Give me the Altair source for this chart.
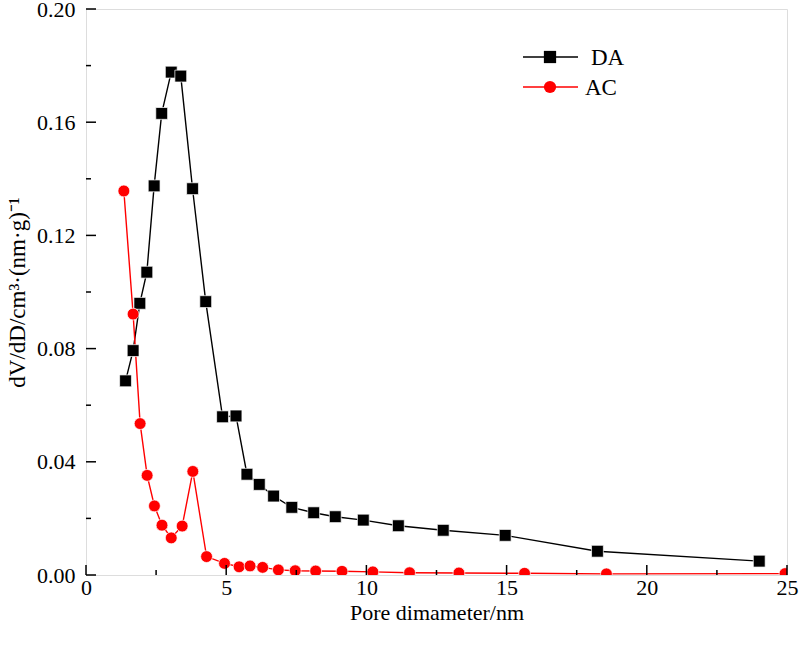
import altair as alt
import pandas as pd

# ---- data ----
da_x = [1.41, 1.68, 1.92, 2.17, 2.43, 2.70, 3.04, 3.38, 3.80, 4.27, 4.87, 5.35, 5.74,
        6.18, 6.69, 7.34, 8.12, 8.89, 9.89, 11.14, 12.74, 14.95, 18.24, 24.01]
da_y = [0.0686, 0.0793, 0.0960, 0.1070, 0.1375, 0.1631, 0.1777, 0.1763, 0.1365, 0.0966,
        0.0559, 0.0562, 0.0356, 0.0320, 0.0279, 0.0239, 0.0220, 0.0206, 0.0194, 0.0174,
        0.0158, 0.0140, 0.0084, 0.0049]

ac_x = [1.35, 1.68, 1.93, 2.18, 2.44, 2.71, 3.04, 3.43, 3.81, 4.30, 4.94, 5.46, 5.85,
        6.30, 6.86, 7.46, 8.19, 9.13, 10.23, 11.54, 13.30, 15.64, 18.56, 24.93]
ac_y = [0.1357, 0.0922, 0.0535, 0.0352, 0.0244, 0.0176, 0.0131, 0.0173, 0.0366, 0.0065,
        0.0041, 0.0029, 0.0032, 0.0027, 0.0018, 0.0015, 0.0014, 0.0013, 0.0011, 0.0008,
        0.0007, 0.0006, 0.0004, 0.0005]

x_major = [0, 5, 10, 15, 20, 25]
x_minor = [2.5, 7.5, 12.5, 17.5, 22.5]
y_major = [0.0, 0.04, 0.08, 0.12, 0.16, 0.20]
y_minor = [0.02, 0.06, 0.10, 0.14, 0.18]

legend_names = ["DA", "AC"]

W, H = 701, 566
FONT = "Times New Roman, Liberation Serif, serif"
FS = 22

da = pd.DataFrame({"x": da_x, "y": da_y})
ac = pd.DataFrame({"x": ac_x, "y": ac_y})

xs = alt.Scale(domain=[0, 25], nice=False, zero=False)
ys = alt.Scale(domain=[0, 0.2], nice=False, zero=False)

xaxis = alt.Axis(values=x_major, format="d", tickSize=0, domain=False, grid=False,
                 labelFlush=False, labelOverlap=False,
                 labelFont=FONT, labelFontSize=FS, labelColor="black", labelPadding=2,
                 title="Pore dimameter/nm", titleFont=FONT, titleFontSize=FS,
                 titleFontWeight="normal", titleColor="black", titlePadding=4)
yaxis = alt.Axis(values=y_major, format=".2f", tickSize=0, domain=False, grid=False,
                 labelFlush=False, labelOverlap=False,
                 labelFont=FONT, labelFontSize=FS, labelColor="black", labelPadding=11,
                 title="dV/dD/cm³·(nm·g)⁻¹", titleFont=FONT, titleFontSize=23,
                 titleFontWeight="normal", titleColor="black", titlePadding=7)

base_line_da = alt.Chart(da).mark_line(color="black", strokeWidth=1.4, clip=True).encode(
    x=alt.X("x:Q", scale=xs, axis=xaxis),
    y=alt.Y("y:Q", scale=ys, axis=yaxis),
)
pts_da = alt.Chart(da).mark_point(shape="square", filled=True, fill="black", size=140,
                                  stroke="white", strokeWidth=0.7, opacity=1, clip=True).encode(
    x=alt.X("x:Q", scale=xs), y=alt.Y("y:Q", scale=ys))

line_ac = alt.Chart(ac).mark_line(color="#ff0000", strokeWidth=1.4, clip=True).encode(
    x=alt.X("x:Q", scale=xs), y=alt.Y("y:Q", scale=ys))
pts_ac = alt.Chart(ac).mark_point(shape="circle", filled=True, fill="#ff0000", size=140,
                                  stroke="white", strokeWidth=0.7, opacity=1, clip=True).encode(
    x=alt.X("x:Q", scale=xs), y=alt.Y("y:Q", scale=ys))

# inward ticks
def xticks(vals, length):
    return alt.Chart(pd.DataFrame({"v": vals})).mark_rule(color="black", strokeWidth=1.5).encode(
        x=alt.X("v:Q", scale=xs), y=alt.value(H), y2=alt.value(H - length))

def yticks(vals, length):
    return alt.Chart(pd.DataFrame({"v": vals})).mark_rule(color="black", strokeWidth=1.5).encode(
        y=alt.Y("v:Q", scale=ys), x=alt.value(0), x2=alt.value(length))

# legend (row position, text start)
leg_rows = [(legend_names[0], "black", "square", 48, 505),
            (legend_names[1], "#ff0000", "circle", 78, 499)]
legend_layers = []
for name, col, shp, yy, tx in leg_rows:
    d = pd.DataFrame({"n": [name]})
    legend_layers.append(alt.Chart(d).mark_rule(color=col, strokeWidth=1.4).encode(
        x=alt.value(437), x2=alt.value(492), y=alt.value(yy)))
    legend_layers.append(alt.Chart(d).mark_point(shape=shp, filled=True, fill=col, size=150,
                                                 opacity=1, strokeWidth=0).encode(
        x=alt.value(464), y=alt.value(yy)))
    legend_layers.append(alt.Chart(d).mark_text(align="left", baseline="middle", font=FONT,
                                                fontSize=23, color="black").encode(
        x=alt.value(tx), y=alt.value(yy + 1), text="n:N"))

chart = alt.layer(
    base_line_da, line_ac, pts_da, pts_ac,
    xticks(x_major, 10), xticks(x_minor, 5), yticks(y_major, 10), yticks(y_minor, 5),
    *legend_layers
).properties(
    width=W, height=H,
    autosize=alt.AutoSizeParams(type="none"),
    padding={"left": 86, "top": 9, "right": 13, "bottom": 73},
).configure_view(
    stroke="black", strokeWidth=2
).configure(background="white")

chart.save("out.html", embed_options={"renderer": "svg", "actions": False})
